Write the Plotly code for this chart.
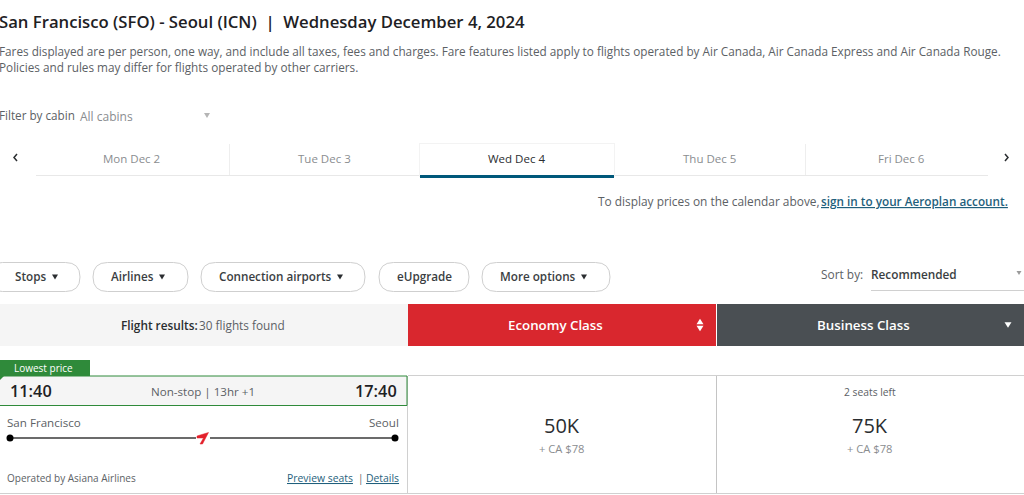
import plotly.graph_objects as go

# page texts
title = "San Francisco (SFO) - Seoul (ICN)  |  Wednesday December 4, 2024"
fare_notes = ["Fares displayed are per person, one way, and include all taxes, fees and charges. Fare features listed apply to flights operated by Air Canada, Air Canada Express and Air Canada Rouge.",
              "Policies and rules may differ for flights operated by other carriers."]
day_tabs = ["Mon Dec 2", "Tue Dec 3", "Wed Dec 4", "Thu Dec 5", "Fri Dec 6"]
day_tab_x = [131, 324, 516, 709, 901]
filter_pills = ["Stops", "Airlines", "Connection airports", "eUpgrade", "More options"]
pill_left = [-12, 93, 201, 379, 482]
pill_right = [80, 188, 365, 469, 610]
pill_text_x = [15, 111, 219, 397, 500]
pill_caret_x = [55, 162, 340, None, 584]
fare_classes = ["50K", "75K"]
fare_taxes = ["+ CA $78", "+ CA $78"]
fare_x = [562, 870]
route_x = [10, 395]
route_y = [438, 438]
mark_x = [197, 208.5, 202.5, 200, 203.5, 197]
mark_y = [436, 432.5, 444, 444, 438, 438]

FONT = "Open Sans"
DARK = "#2a2d30"
MID = "#5c6165"
LIGHT = "#8a8d90"
LINK = "#1f5f7c"
GREEN = "#2f8a3a"
LINE = "#d0d0d0"

annotations = []
shapes = []


def text(x, y, s, size=12, color=MID, anchor="left", weight=400):
    # annotations left of the axis range get dropped, so shift them instead
    shift = min(x, 0)
    annotations.append(dict(x=max(x, 0), y=y, xshift=shift, text=s, showarrow=False, xanchor=anchor,
                            yanchor="middle", xref="x", yref="y", align=anchor, borderpad=0, borderwidth=0,
                            font=dict(family=FONT, size=size, color=color, weight=weight)))


def rect(x0, y0, x1, y1, fill, line=None, width=1):
    shapes.append(dict(type="rect", x0=x0, y0=y0, x1=x1, y1=y1, xref="x", yref="y", fillcolor=fill,
                       line=dict(color=line or fill, width=width if line else 0), layer="below"))


def seg(x0, y0, x1, y1, color=LINE, width=1):
    shapes.append(dict(type="line", x0=x0, y0=y0, x1=x1, y1=y1, xref="x", yref="y",
                       line=dict(color=color, width=width), layer="below"))


def path(d, fill="rgba(0,0,0,0)", color=None, width=0):
    shapes.append(dict(type="path", path=d, xref="x", yref="y", fillcolor=fill,
                       line=dict(color=color or "rgba(0,0,0,0)", width=width), layer="below"))


def caret(x, y, size=3, color=DARK, up=False):
    tip = y - size * 0.8 if up else y + size * 0.8
    base = y + size * 0.8 if up else y - size * 0.8
    path(f"M{x-size},{base} L{x+size},{base} L{x},{tip} Z", fill=color)


# heading block
text(-1, 21, title, size=16.7, color="#1e2124", weight=600)
text(-1, 51, fare_notes[0], size=11.75)
text(-1, 67, fare_notes[1], size=11.75)

# cabin filter
text(-1, 115, "Filter by cabin", size=11.7)
text(80, 116, "All cabins", size=12, color=LIGHT)
caret(207, 115.5, size=3, color="#b5b5b5")

# day tabs
path("M17,154 L14,157.5 L17,161", color=DARK, width=1.5)
path("M1005,154 L1008,157.5 L1005,161", color=DARK, width=1.5)
seg(36, 175.5, 988, 175.5, color="#e8e8e8")
seg(229.5, 144, 229.5, 175, color="#eeeeee")
seg(805.5, 144, 805.5, 175, color="#eeeeee")
rect(419, 143, 615, 177, "#f3f3f3")
rect(420, 144, 614, 176, "#ffffff")
rect(420, 175, 614, 178, "#00587a")
for lab, x in zip(day_tabs, day_tab_x):
    active = lab == "Wed Dec 4"
    text(x, 158.5, lab, size=11.5, color=DARK if active else LIGHT, anchor="center")

text(598, 201, "To display prices on the calendar above,", size=11.9)
text(821, 201, "<u>sign in to your Aeroplan account.</u>", size=11.75, color=LINK, weight=600)

# filter pills
for lab, x0, x1, tx, cx in zip(filter_pills, pill_left, pill_right, pill_text_x, pill_caret_x):
    r = 14.5
    y0, y1 = 262.5, 291.5
    path(f"M{x0+r},{y0} L{x1-r},{y0} Q{x1},{y0} {x1},{y0+r} Q{x1},{y1} {x1-r},{y1} "
         f"L{x0+r},{y1} Q{x0},{y1} {x0},{y0+r} Q{x0},{y0} {x0+r},{y0} Z",
         fill="#ffffff", color="#cfcfcf", width=1)
    text(tx, 276, lab, size=11.7, color="#3a3e42", weight=600)
    if cx is not None:
        caret(cx, 277, size=3, color="#2a2d30")

# sort box
text(821, 274, "Sort by:", size=11.9)
text(871, 274, "Recommended", size=11.8, color="#3a3e42", weight=600)
seg(871, 290.5, 1024, 290.5)
caret(1019, 273, size=2.5, color="#9a9a9a")

# results header
rect(0, 304, 408, 346, "#f5f5f5")
rect(408, 304, 716, 346, "#d9272e")
rect(717, 304, 1024, 346, "#4a4f53")
text(121, 325, "Flight results:", size=11.8, color="#2a2d30", weight=600)
text(199, 325, "30 flights found", size=11.8)
text(555, 325, "Economy Class", size=13.3, color="#ffffff", anchor="center", weight=600)
text(863, 325, "Business Class", size=13.3, color="#ffffff", anchor="center", weight=600)
caret(700, 321.5, size=3.5, color="#ffffff", up=True)
caret(700, 328.5, size=3.5, color="#ffffff")
caret(1008, 325, size=3.5, color="#ffffff")

# flight row frame
seg(408, 375.5, 1024, 375.5)
seg(0, 493.5, 1024, 493.5)
seg(407.5, 376, 407.5, 493)
seg(716.5, 376, 716.5, 493, color="#c4c4c4")
rect(-2, 376, 407, 405.5, "#f5f5f5", line=GREEN, width=1)
rect(0, 360, 90, 376, GREEN)
path("M0,376 L4,376 L0,380 Z", fill=GREEN)
text(14, 368, "Lowest price", size=10, color="#ffffff")
text(10, 391, "11:40", size=16.3, color="#1e2124", weight=600)
text(397, 391, "17:40", size=16.3, color="#1e2124", anchor="right", weight=600)
text(203, 391, "Non-stop | 13hr +1", size=11.6, anchor="center")
text(7, 422, "San Francisco", size=11.6)
text(399, 422, "Seoul", size=11.6, anchor="right")
text(7, 478, "Operated by Asiana Airlines", size=10)
text(287, 478, "<u>Preview seats</u>", size=10.4, color=LINK)
text(358, 478, "|", size=10)
text(366, 478, "<u>Details</u>", size=10.4, color=LINK)

# fares
text(870, 392, "2 seats left", size=10.3, anchor="center")
for lab, tax, x in zip(fare_classes, fare_taxes, fare_x):
    text(x, 425.5, lab, size=20, color="#2a2d30", anchor="center")
    text(x, 448.5, tax, size=11.2, color=LIGHT, anchor="center")

fig = go.Figure()
# route line with the two airport dots
fig.add_trace(go.Scatter(x=route_x, y=route_y, mode="lines+markers", hoverinfo="skip",
                         line=dict(color="#3a3a3a", width=1.4),
                         marker=dict(color="#000000", size=7)))
# white gap and airline mark sit on top of the line
fig.add_trace(go.Scatter(x=[196, 210], y=route_y, mode="lines", hoverinfo="skip",
                         line=dict(color="#ffffff", width=3)))
fig.add_trace(go.Scatter(x=mark_x + mark_x[:1], y=mark_y + mark_y[:1],
                         mode="lines", fill="toself", fillcolor="#e3202b", hoverinfo="skip",
                         line=dict(color="#e3202b", width=0.5)))

fig.update_layout(width=1024, height=495, margin=dict(l=0, r=0, t=0, b=0), showlegend=False,
                  paper_bgcolor="#ffffff", plot_bgcolor="#ffffff",
                  annotations=annotations, shapes=shapes,
                  xaxis=dict(range=[0, 1024], visible=False, fixedrange=True),
                  yaxis=dict(range=[495, 0], visible=False, fixedrange=True))

fig.write_html("out.html", config=dict(displayModeBar=False),
               post_script="document.body.style.margin='0';document.body.style.overflow='hidden';")
